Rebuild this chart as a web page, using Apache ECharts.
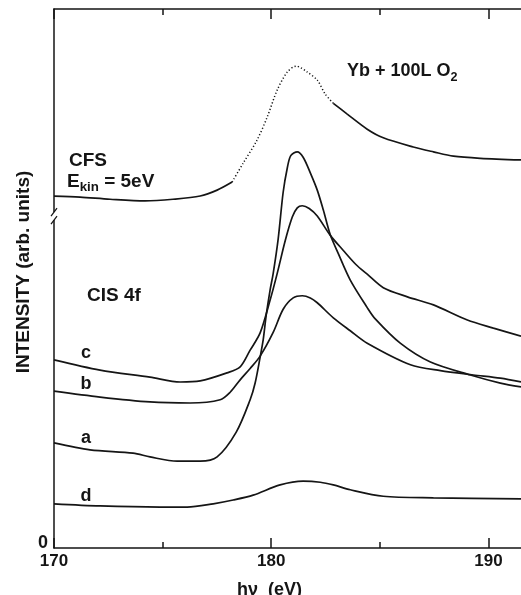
<!DOCTYPE html>
<html><head><meta charset="utf-8">
<script src="https://cdn.jsdelivr.net/npm/echarts@6/dist/echarts.min.js"></script>
<style>html,body{margin:0;padding:0;background:#fff}#c{width:521px;height:595px}</style>
</head><body><div id="c"></div>
<script>
// ---- data (photon energy hν in eV, intensity in arbitrary units) ----
const xMajorTicks = [170, 180, 190];
const xMinorTicks = [175, 185];
const yTickLabels = [0];
const axisBreakValue = 61.4;

const cfsCurve = [[170.0,65.3],[171.2,65.1],[172.58,64.7],[174.19,64.4],[175.48,64.7],[176.73,65.3],[177.51,66.4],[178.2,67.9],
  [178.71,71.4],[179.35,75.7],[179.82,80.0],[180.28,85.0],[180.74,88.3],[181.15,89.4],[181.66,88.3],[182.12,86.8],[182.49,84.2],[182.86,82.5],
  [183.5,80.5],[184.42,77.7],[185.16,76.1],[186.54,74.4],[187.47,73.5],[188.39,72.7],[189.63,72.3],[191.5,72.0]];
const cfsDottedRange = [178.2, 182.86];

const curveA = [[170.0,19.5],[171.66,18.2],[173.64,17.6],[174.42,16.9],[175.67,16.1],[176.73,16.1],[177.51,16.9],[178.39,21.5],[179.03,27.5],
  [179.26,30.6],[179.49,35.4],[179.63,38.6],[179.77,43.2],[179.95,47.9],[180.09,50.9],[180.32,57.3],[180.55,66.0],[180.74,70.5],[180.9,72.8],
  [181.2,73.5],[181.47,72.5],[181.8,69.6],[182.12,66.4],[182.4,62.7],[182.72,58.1],[183.09,54.6],[183.64,49.7],[184.42,44.6],[184.79,42.5],
  [185.94,38.0],[187.33,34.5],[189.17,32.1],[190.55,30.6],[191.5,29.9]];
const curveB = [[170.0,29.1],[172.12,28.0],[174.42,27.1],[176.27,26.9],[177.65,27.5],[178.11,28.9],[178.57,31.2],[179.03,33.3],[179.49,35.6],
  [180.09,40.0],[180.55,44.3],[181.01,46.4],[181.43,46.8],[181.8,46.4],[182.12,45.5],[182.86,42.7],[183.64,40.3],[184.42,38.0],[186.41,34.0],
  [187.79,32.9],[189.31,32.1],[190.55,31.5],[191.5,30.8]];
const curveC = [[170.0,34.9],[172.12,33.0],[174.42,31.7],[175.81,30.8],[176.73,31.0],[177.97,32.5],[178.57,33.6],[179.03,36.7],[179.49,39.9],
  [179.95,46.0],[180.28,51.0],[180.65,57.1],[180.97,61.4],[181.2,63.1],[181.43,63.5],[181.75,63.0],[182.12,61.6],[182.72,58.0],[183.32,55.2],
  [183.9,52.6],[184.42,50.8],[185.16,48.3],[186.27,46.6],[187.47,45.1],[189.03,42.3],[190.23,40.8],[191.5,39.3]];
const curveD = [[170.0,8.2],[172.12,7.8],[174.88,7.6],[176.13,7.6],[177.33,8.2],[178.25,8.9],[179.17,9.8],[180.41,11.7],[181.47,12.4],
  [182.26,12.2],[182.86,11.7],[183.64,10.8],[185.16,9.6],[187.47,9.3],[191.5,9.1]];

// ---- chart ----
const INK = '#151515';
const FONT = 'Liberation Sans';
const chart = echarts.init(document.getElementById('c'), null, {renderer: 'canvas'});

function lineSeries(name, data, dotted) {
  return {
    name, type: 'line', data, xAxisIndex: 0, yAxisIndex: 0,
    showSymbol: false, symbol: 'none', smooth: 0.3, animation: false,
    lineStyle: {color: INK, width: dotted ? 1.5 : 1.7, type: dotted ? [1.2, 2.2] : 'solid'},
    z: 3
  };
}
const cfsLeft = cfsCurve.filter(p => p[0] <= cfsDottedRange[0]);
const cfsDot = cfsCurve.filter(p => p[0] >= cfsDottedRange[0] && p[0] <= cfsDottedRange[1]);
const cfsRight = cfsCurve.filter(p => p[0] >= cfsDottedRange[1]);

const tickStyle = {color: INK, width: 1.5};
function xAx(pos, ticks, len, showLine, showLabel) {
  return {
    type: 'value', position: pos, min: 170, max: 191.5,
    axisLine: {show: showLine, onZero: false, lineStyle: {color: INK, width: 1.5}},
    axisTick: {show: true, inside: true, length: len, customValues: ticks, lineStyle: tickStyle},
    axisLabel: showLabel ? {show: true, customValues: ticks, margin: 5, fontFamily: FONT, fontWeight: 'bold', fontSize: 17, color: INK} : {show: false},
    splitLine: {show: false}
  };
}
const xAxes = [
  Object.assign(xAx('bottom', xMajorTicks, 10, true, true), {
    name: 'hν  (eV)', nameLocation: 'middle', nameGap: 33,
    nameTextStyle: {fontFamily: FONT, fontWeight: 'bold', fontSize: 18, color: INK, padding: [0, 36, 0, 0]}
  }),
  xAx('bottom', xMinorTicks, 6, false, false),
  xAx('top', xMajorTicks, 10, true, false),
  xAx('top', xMinorTicks, 6, false, false)
];

chart.setOption({
  animation: false,
  backgroundColor: '#fff',
  grid: {left: 54, right: 0, top: 9, bottom: 47, containLabel: false, outerBoundsMode: 'none'},
  xAxis: xAxes,
  yAxis: {
    type: 'value', min: 0, max: 100,
    axisLine: {show: true, onZero: false, lineStyle: {color: INK, width: 1.5}},
    axisTick: {show: false},
    axisLabel: {customValues: yTickLabels, margin: 6, fontFamily: FONT, fontWeight: 'bold', fontSize: 18, color: INK, verticalAlign: 'bottom', lineHeight: 10},
    splitLine: {show: false}
  },
  series: [
    lineSeries('CFS', cfsLeft, false),
    lineSeries('CFS dotted', cfsDot, true),
    lineSeries('CFS right', cfsRight, false),
    lineSeries('a', curveA, false),
    lineSeries('b', curveB, false),
    lineSeries('c', curveC, false),
    lineSeries('d', curveD, false)
  ]
});

// ---- annotations ----
const p = chart.convertToPixel({xAxisIndex: 0, yAxisIndex: 0}, [170, axisBreakValue]);
const txt = (x, y, text, size, extra) => ({
  type: 'text', x, y, z: 10,
  style: Object.assign({text, fill: INK, font: 'bold ' + size + 'px "' + FONT + '"', align: 'left', verticalAlign: 'middle'}, extra || {})
});
function subText(x, y, main, sub, tail, size) {
  return {
    type: 'text', x, y, z: 10,
    style: {
      text: '{m|' + main + '}{s|' + sub + '}' + (tail ? '{m|' + tail + '}' : ''),
      fill: INK, align: 'left', verticalAlign: 'middle',
      rich: {
        m: {fontFamily: FONT, fontWeight: 'bold', fontSize: size, lineHeight: 22, verticalAlign: 'top', fill: INK},
        s: {fontFamily: FONT, fontWeight: 'bold', fontSize: size * 0.7, lineHeight: 22, verticalAlign: 'bottom', fill: INK}
      }
    }
  };
}
chart.setOption({
  graphic: [
    {type: 'text', x: 24, y: 272, rotation: Math.PI / 2, z: 10,
     style: {text: 'INTENSITY (arb. units)', fill: INK, font: 'bold 19px "' + FONT + '"', align: 'center', verticalAlign: 'middle'}},
    subText(347, 73, 'Yb + 100L O', '2', '', 18),
    txt(69, 161, 'CFS', 19),
    subText(67, 183, 'E', 'kin', ' = 5eV', 19),
    txt(87, 296, 'CIS 4f', 19),
    txt(86, 353, 'c', 18, {align: 'center'}),
    txt(86, 384, 'b', 18, {align: 'center'}),
    txt(86, 438, 'a', 18, {align: 'center'}),
    txt(86, 496, 'd', 18, {align: 'center'}),
    // axis break
    {type: 'rect', z: 20, shape: {x: p[0] - 4, y: p[1] - 5, width: 8, height: 8}, style: {fill: '#fff'}},
    {type: 'line', z: 21, shape: {x1: p[0] - 3, y1: p[1] - 1, x2: p[0] + 3, y2: p[1] - 9}, style: {stroke: INK, lineWidth: 1.3}},
    {type: 'line', z: 21, shape: {x1: p[0] - 3, y1: p[1] + 7, x2: p[0] + 3, y2: p[1] - 1}, style: {stroke: INK, lineWidth: 1.3}}
  ]
});
</script></body></html>
